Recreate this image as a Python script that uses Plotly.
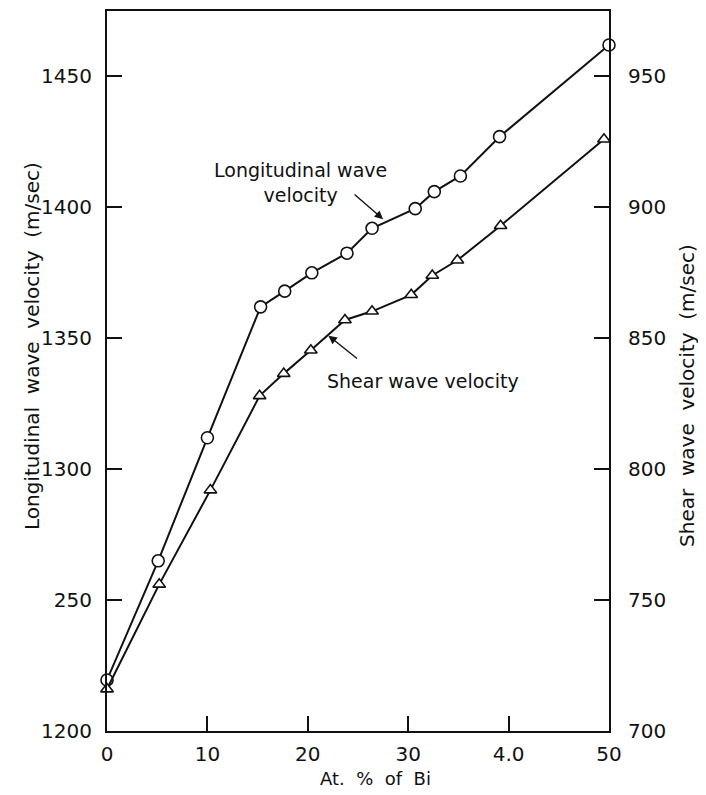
import plotly.graph_objects as go

# Data
long_x = [0, 5.1, 10.0, 15.3, 17.7, 20.4, 23.9, 26.4, 30.7, 32.6, 35.2, 39.1, 50.0]
long_v = [1219.5, 1265, 1312, 1362, 1368, 1375, 1382.5, 1392, 1399.5, 1406, 1412, 1427, 1462]

shear_x = [0, 5.2, 10.3, 15.2, 17.6, 20.3, 23.7, 26.4, 30.3, 32.4, 34.9, 39.2, 49.5]
shear_v = [716, 756, 792, 828, 836.5, 845.4, 857, 860.3, 866.6, 874, 879.8, 893, 926]

x_tickvals = [0, 10, 20, 30, 40, 50]
x_ticktext = ["0", "10", "20", "30", "4.0", "50"]
yl_tickvals = [1200, 1250, 1300, 1350, 1400, 1450]
yl_ticktext = ["1200", "250", "1300", "1350", "1400", "1450"]
yr_tickvals = [700, 750, 800, 850, 900, 950]
yr_ticktext = ["700", "750", "800", "850", "900", "950"]

FONT = "DejaVu Sans"
BLACK = "#111111"

# Plot area on screen: x 107..609, y 9..731 (page body has an 8px margin)
def px_x(sx):
    return (sx - 107) / 502

def px_y(sy):
    return (731 - sy) / 722

fig = go.Figure()
fig.add_trace(go.Scatter(
    x=long_x, y=long_v, mode="lines+markers", yaxis="y", cliponaxis=False,
    line=dict(color=BLACK, width=2),
    marker=dict(symbol="circle", size=12, color="white", line=dict(color=BLACK, width=1.6)),
    showlegend=False))
fig.add_trace(go.Scatter(
    x=shear_x, y=shear_v, mode="lines+markers", yaxis="y2", cliponaxis=False,
    line=dict(color=BLACK, width=2),
    marker=dict(symbol="triangle-up", size=11, color="white", line=dict(color=BLACK, width=1.6)),
    showlegend=False))

axis_common = dict(showline=True, linecolor=BLACK, linewidth=2, ticks="inside", ticklen=15,
                   tickwidth=1.5, tickcolor=BLACK, showgrid=False, zeroline=False,
                   tickfont=dict(family=FONT, size=20, color=BLACK))

fig.update_layout(
    width=698, height=787,
    margin=dict(l=99, r=97, t=1, b=64),
    plot_bgcolor="white", paper_bgcolor="white",
    xaxis=dict(range=[0, 50], tickvals=x_tickvals, ticktext=x_ticktext, mirror=True,
               ticklabelstandoff=4, **axis_common),
    yaxis=dict(range=[1200, 1475], tickvals=yl_tickvals, ticktext=yl_ticktext,
               ticklabelstandoff=9, **axis_common),
    yaxis2=dict(range=[700, 975], tickvals=yr_tickvals, ticktext=yr_ticktext,
                overlaying="y", side="right", ticklabelstandoff=13, **axis_common),
    font=dict(family=FONT, color=BLACK),
)

# Arrows
fig.add_annotation(x=27.5, y=1395.5, xref="x", yref="y", text="", showarrow=True,
                   ax=-30, ay=-26, arrowhead=2, arrowsize=1.2, arrowwidth=1.4, arrowcolor=BLACK)
fig.add_annotation(x=22.06, y=851.0, xref="x", yref="y2", text="", showarrow=True,
                   ax=30, ay=24, arrowhead=2, arrowsize=1.2, arrowwidth=1.4, arrowcolor=BLACK)

# Curve labels
fig.add_annotation(x=px_x(300), y=px_y(181), xref="paper", yref="paper",
                   text="Longitudinal wave<br>velocity",
                   showarrow=False, xanchor="center", yanchor="middle",
                   font=dict(family=FONT, size=19, color=BLACK))
fig.add_annotation(x=px_x(325), y=px_y(380), xref="paper", yref="paper",
                   text="Shear wave velocity",
                   showarrow=False, xanchor="left", yanchor="middle",
                   font=dict(family=FONT, size=19, color=BLACK))

# Axis titles
fig.add_annotation(x=px_x(375), y=px_y(779), xref="paper", yref="paper",
                   text="At.&nbsp; %&nbsp; of&nbsp; Bi", showarrow=False,
                   xanchor="center", yanchor="middle",
                   font=dict(family=FONT, size=18, color=BLACK))
fig.add_annotation(x=px_x(32), y=px_y(345), xref="paper", yref="paper",
                   text="Longitudinal&nbsp; wave&nbsp; velocity&nbsp; (m/sec)", textangle=-90,
                   showarrow=False, xanchor="center", yanchor="middle",
                   font=dict(family=FONT, size=20, color=BLACK))
fig.add_annotation(x=px_x(687), y=px_y(395), xref="paper", yref="paper",
                   text="Shear&nbsp; wave&nbsp; velocity&nbsp; (m/sec)", textangle=-90,
                   showarrow=False, xanchor="center", yanchor="middle",
                   font=dict(family=FONT, size=20, color=BLACK))

fig.write_html("out.html")
